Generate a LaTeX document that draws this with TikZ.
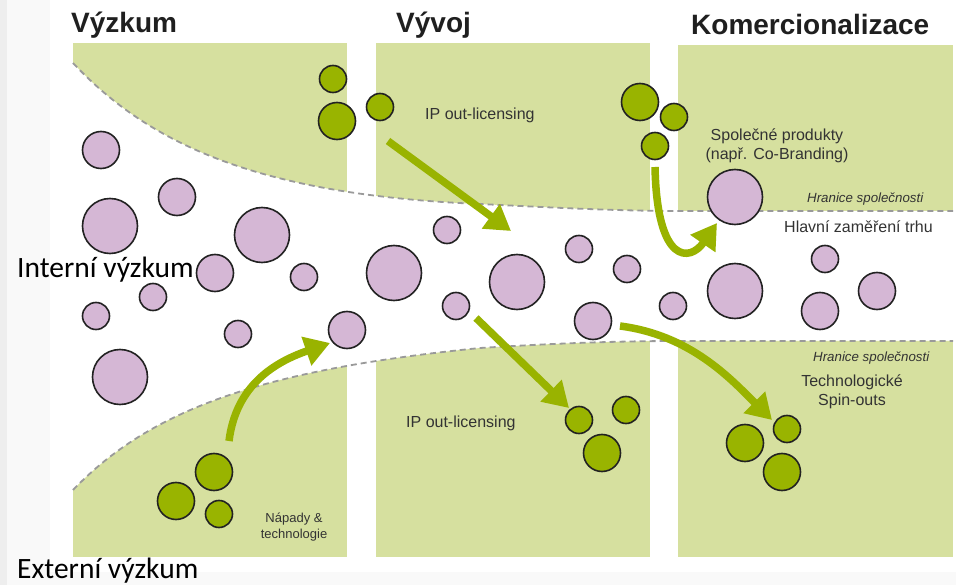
\documentclass[tikz,border=0pt]{standalone}
\usepackage{fontspec}
\setmainfont{Liberation Sans}
\newfontfamily\calibrifont{Carlito}
\usepackage{tikz}
\usetikzlibrary{arrows.meta}
\definecolor{boxgreen}{HTML}{D6E09F}
\definecolor{arrowgreen}{HTML}{99B300}
\definecolor{bubgreen}{HTML}{99B400}
\definecolor{bubpink}{HTML}{D5B7D5}
\definecolor{edgegray}{HTML}{222222}
\definecolor{dashgray}{HTML}{9A9A9A}
\definecolor{txtgray}{HTML}{333333}
\definecolor{pagegray}{HTML}{F9F9F9}
\definecolor{stripgray}{HTML}{EEEEEE}

\begin{document}
\begin{tikzpicture}[x=1pt,y=-1pt,line join=round,
	pbub/.style={circle,draw=edgegray,fill=bubpink,line width=1.6pt,inner sep=0pt,minimum size=#1},
	gbub/.style={circle,draw=edgegray,fill=bubgreen,line width=1.6pt,inner sep=0pt,minimum size=#1},
	flow/.style={arrowgreen,line width=7.5pt,-{Triangle[length=25pt,width=29pt]}},
	border/.style={dashgray,line width=1.8pt,dash pattern=on 6pt off 4pt},
	txt/.style={txtgray,inner sep=0pt,font=\fontsize{16}{19}\selectfont},
	ttl/.style={black!88,inner sep=0pt,anchor=base west,font=\fontsize{28}{32}\selectfont\bfseries}]
	
	\useasboundingbox (0,0) rectangle (956,585);
	\fill[stripgray] (0,0) rectangle (956,585);
	\fill[pagegray] (7,0) rectangle (956,585);
	\fill[white] (50,0) rectangle (956,572);
	
	% company boundary, upper part
	\begin{scope}
		\clip (73,63) .. controls (150,145) and (260,195) .. (480,204) .. controls (560,208) and (620,211) .. (680,211) -- (960,211) -- (960,0) -- (73,0) -- cycle;
		\fill[boxgreen] (73,43) rectangle (347,300);
		\fill[boxgreen] (376,43) rectangle (650,300);
		\fill[boxgreen] (678,45) rectangle (953,300);
	\end{scope}
	% company boundary, lower part
	\begin{scope}
		\clip (73,490) .. controls (150,410) and (260,370) .. (480,348) .. controls (560,343) and (620,341) .. (680,341) -- (960,341) -- (960,600) -- (73,600) -- cycle;
		\fill[boxgreen] (73,300) rectangle (347,557);
		\fill[boxgreen] (376,300) rectangle (650,557);
		\fill[boxgreen] (678,300) rectangle (953,557);
	\end{scope}
	\draw[border] (73,63) .. controls (150,145) and (260,195) .. (480,204) .. controls (560,208) and (620,211) .. (680,211) -- (953,211);
	\draw[border] (73,490) .. controls (150,410) and (260,370) .. (480,348) .. controls (560,343) and (620,341) .. (680,341) -- (953,341);
	
	\coordinate (A1s) at (388,141);
	\coordinate (A1e) at (511,231);
	\coordinate (A2s) at (476,318);
	\coordinate (A2e) at (569,408);
	\coordinate (A3s) at (229,441);
	\coordinate (A3e) at (330,343);
	\coordinate (A4s) at (655,167);
	\coordinate (A4e) at (717,223);
	\coordinate (A5s) at (620,326);
	\coordinate (A5e) at (772,420);
	
	\draw[flow] (A1s) -- (A1e);
	\draw[flow] (A2s) -- (A2e);
	\draw[flow] (A3s) .. controls (236,385) and (275,362) .. (A3e);
	\draw[flow] (A4s) .. controls (657,265) and (690,262) .. (A4e);
	\draw[flow] (A5s) .. controls (690,335) and (730,378) .. (A5e);
	
	% internal ideas
	\node[pbub=37pt] (p1) at (101,150) {};
	\node[pbub=37pt] (p2) at (177,197) {};
	\node[pbub=55pt] (p3) at (110,226) {};
	\node[pbub=55pt] (p4) at (262,235) {};
	\node[pbub=37pt] (p5) at (215,273) {};
	\node[pbub=27pt] (p6) at (304,277) {};
	\node[pbub=27pt] (p7) at (153,297) {};
	\node[pbub=27pt] (p8) at (96,316) {};
	\node[pbub=27pt] (p9) at (238,334) {};
	\node[pbub=37pt] (p10) at (347,330) {};
	\node[pbub=55pt] (p11) at (120,377) {};
	\node[pbub=55pt] (p12) at (394,273) {};
	\node[pbub=27pt] (p13) at (447,230) {};
	\node[pbub=27pt] (p14) at (456,306) {};
	\node[pbub=55pt] (p15) at (517,282) {};
	\node[pbub=27pt] (p16) at (579,249) {};
	\node[pbub=27pt] (p17) at (627,269) {};
	\node[pbub=37pt] (p18) at (593,321) {};
	\node[pbub=27pt] (p19) at (673,306) {};
	\node[pbub=55pt] (p20) at (735,291) {};
	\node[pbub=55pt] (p21) at (735,197) {};
	\node[pbub=27pt] (p22) at (825,259) {};
	\node[pbub=37pt] (p23) at (820,311) {};
	\node[pbub=37pt] (p24) at (877,291) {};
	
	% outside ideas
	\node[gbub=27pt] (g1) at (333,79) {};
	\node[gbub=37pt] (g2) at (337,121) {};
	\node[gbub=27pt] (g3) at (380,107) {};
	\node[gbub=37pt] (g4) at (640,102) {};
	\node[gbub=27pt] (g5) at (674,117) {};
	\node[gbub=27pt] (g6) at (655,146) {};
	\node[gbub=37pt] (g7) at (214,472) {};
	\node[gbub=37pt] (g8) at (176,501) {};
	\node[gbub=27pt] (g9) at (219,514) {};
	\node[gbub=27pt] (g10) at (579,420) {};
	\node[gbub=27pt] (g11) at (626,410) {};
	\node[gbub=37pt] (g12) at (602,453) {};
	\node[gbub=27pt] (g13) at (787,429) {};
	\node[gbub=37pt] (g14) at (745,443) {};
	\node[gbub=37pt] (g15) at (782,472) {};
	
	\node at (71,33) [ttl] (Research) {Výzkum};
	\node at (396,33) [ttl] (Develop) {Vývoj};
	\node at (691,35) [ttl] (Commerce) {Komercionalizace};
	
	\node at (17,278) [anchor=base west,inner sep=0pt,font=\calibrifont\fontsize{29.5}{33}\selectfont] (Internal) {Interní výzkum};
	\node at (17,578) [anchor=base west,inner sep=0pt,font=\calibrifont\fontsize{29.5}{33}\selectfont] (External) {Externí výzkum};
	
	\node at (425,120) [txt,anchor=base west] (LicTop) {IP out-licensing};
	\node at (406,427) [txt,anchor=base west] (LicBot) {IP out-licensing};
	\node at (777,146) [txt,align=center] (Joint) {Společné produkty\\(např. Co-Branding)};
	\node at (784,233) [txt,anchor=base west] (Market) {Hlavní zaměření trhu};
	\node at (852,392) [txt,align=center] (Spin) {Technologické\\Spin-outs};
	\node at (294,527) [txt,align=center,font=\fontsize{13}{16}\selectfont] (Ideas) {Nápady \&\\technologie};
	\node at (807,203) [txt,anchor=base west,font=\fontsize{13.3}{16}\selectfont\itshape] (BorderTop) {Hranice společnosti};
	\node at (813,362) [txt,anchor=base west,font=\fontsize{13.3}{16}\selectfont\itshape] (BorderBot) {Hranice společnosti};
\end{tikzpicture}
\end{document}
